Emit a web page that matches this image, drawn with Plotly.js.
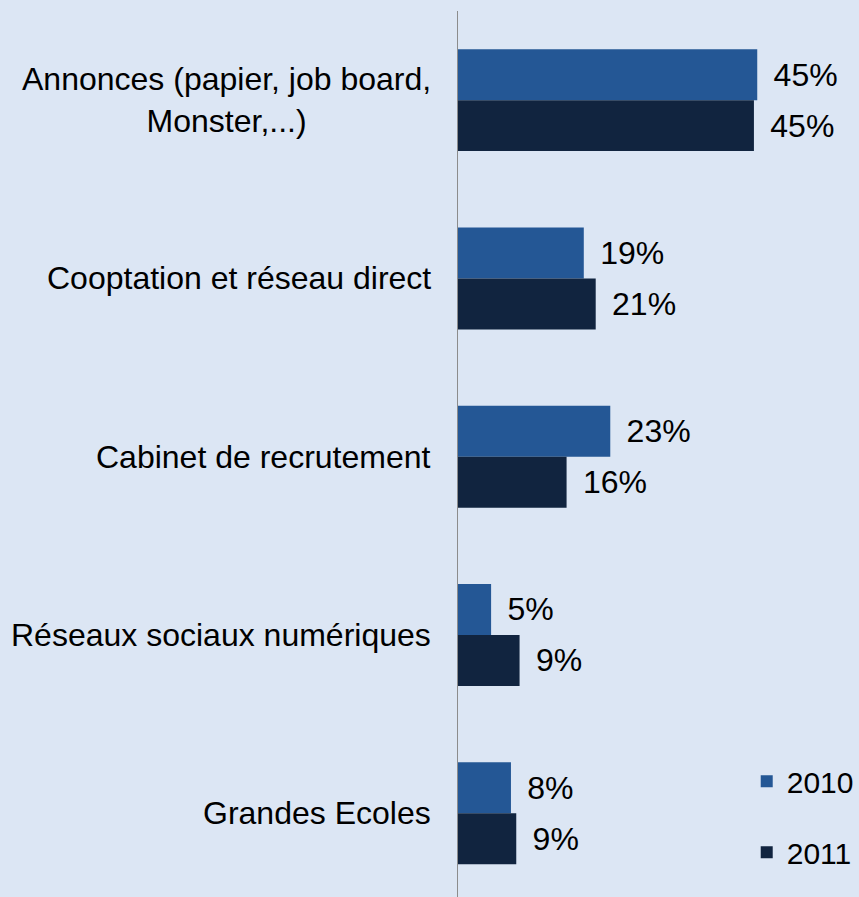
<!DOCTYPE html>
<html>
<head>
<meta charset="utf-8">
<script src="https://cdn.plot.ly/plotly-3.0.1.min.js"></script>
<style>html,body{margin:0;padding:0;background:#DCE6F4;}</style>
</head>
<body>
<div id="chart" style="width:859px;height:897px;"></div>
<script>
const categories = [
  "Annonces (papier, job board,<br>Monster,...)",
  "Cooptation et réseau direct",
  "Cabinet de recrutement",
  "Réseaux sociaux numériques",
  "Grandes Ecoles"
];
const seriesNames = ["2010", "2011"];
const values2010 = [45.2, 19.0, 23.0, 5.0, 8.0];
const values2011 = [44.7, 20.8, 16.4, 9.3, 8.8];
const colors = ["#245795", "#11243F"];

const FONT = "Liberation Sans, Arial, sans-serif";

const traces = [values2010, values2011].map((vals, i) => ({
  type: "bar",
  orientation: "h",
  name: seriesNames[i],
  x: vals,
  y: categories,
  marker: {color: colors[i]},
  text: vals.map(v => "\u2004\u200A" + Math.round(v) + "%"),
  texttemplate: "%{text}",
  textposition: "outside",
  constraintext: "none",
  cliponaxis: false,
  textfont: {family: FONT, size: 32, color: "#000000"},
  hoverinfo: "skip",
  legendgroup: "g" + i
}));

const annotations = categories.map(c => ({
  xref: "paper", yref: "y",
  x: 0, y: c,
  xanchor: "right", yanchor: "middle",
  xshift: -25,
  text: c,
  align: "center",
  showarrow: false,
  font: {family: FONT, size: 32, color: "#000000"}
}));

const layout = {
  width: 859, height: 897,
  paper_bgcolor: "#DCE6F4",
  plot_bgcolor: "#DCE6F4",
  margin: {l: 458, r: 0, t: 11, b: 0, pad: 0},
  barmode: "group",
  bargap: 0.428,
  bargroupgap: 0,
  showlegend: true,
  legend: {
    x: 0.72, xanchor: "left",
    y: 0.16, yanchor: "top",
    bgcolor: "rgba(0,0,0,0)",
    font: {family: FONT, size: 30, color: "#000000"},
    tracegroupgap: 29,
    traceorder: "grouped"
  },
  xaxis: {
    range: [0, 60.57],
    visible: false,
    fixedrange: true
  },
  yaxis: {
    type: "category",
    categoryorder: "array",
    categoryarray: categories,
    range: [4.47, -0.5],
    showticklabels: false,
    ticks: "",
    showgrid: false,
    zeroline: false,
    showline: true,
    linecolor: "#8C8C8C",
    linewidth: 1.5,
    fixedrange: true
  },
  annotations: annotations
};

Plotly.newPlot("chart", traces, layout, {displayModeBar: false, staticPlot: true});
</script>
</body>
</html>
